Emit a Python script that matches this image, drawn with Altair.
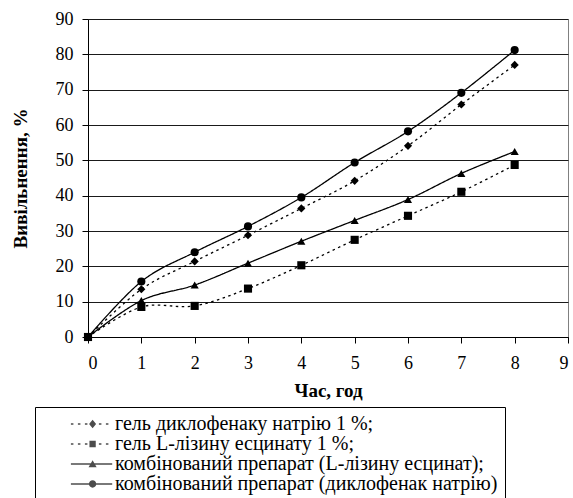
import altair as alt
import pandas as pd

# Release kinetics: hours vs. released amount, %
hours = [0, 1, 2, 3, 4, 5, 6, 7, 8]

series_names = [
    "гель диклофенаку натрію 1 %;",
    "гель L-лізину есцинату 1 %;",
    "комбінований препарат (L-лізину есцинат);",
    "комбінований препарат (диклофенак натрію)",
]

diclofenac_gel = [0, 13.5, 21.4, 28.8, 36.4, 44.2, 54.1, 65.8, 77.0]
lysine_gel = [0, 8.5, 8.8, 13.7, 20.3, 27.5, 34.3, 41.1, 48.7]
combined_lysine = [0, 10.3, 14.7, 20.9, 27.1, 33.0, 38.9, 46.3, 52.5]
combined_diclofenac = [0, 15.7, 24.0, 31.3, 39.5, 49.4, 58.2, 69.1, 81.2]

values_by_series = [diclofenac_gel, lysine_gel, combined_lysine, combined_diclofenac]

rows = []
for name, vals in zip(series_names, values_by_series):
    for h, v in zip(hours, vals):
        rows.append({"series": name, "hour": h, "value": v})
df = pd.DataFrame(rows)

FONT = "Liberation Serif"

axis_style = dict(
    domainColor="black",
    tickColor="black",
    labelFont=FONT,
    labelFontSize=18,
    labelColor="black",
    titleFont=FONT,
    titleFontSize=19,
    titleFontWeight="bold",
    titleColor="black",
)

x_enc = alt.X(
    "hour:Q",
    scale=alt.Scale(domain=[0, 9], nice=False),
    axis=alt.Axis(
        title="Час, год",
        values=list(range(0, 10)),
        format="d",
        grid=False,
        tickSize=6,
        labelPadding=11,
        titlePadding=9,
        **axis_style,
    ),
)
y_enc = alt.Y(
    "value:Q",
    scale=alt.Scale(domain=[0, 90], nice=False),
    axis=alt.Axis(
        title="Вивільнення, %",
        values=list(range(0, 100, 10)),
        format="d",
        grid=True,
        gridColor="#1a1a1a",
        gridWidth=1,
        tickSize=6,
        labelPadding=9,
        titlePadding=25,
        **axis_style,
    ),
)

dash_scale = alt.Scale(
    domain=series_names, range=[[2.5, 3.5], [2.5, 3.5], [1, 0], [1, 0]]
)
shape_scale = alt.Scale(
    domain=series_names, range=["diamond", "square", "triangle-up", "circle"]
)

lines = (
    alt.Chart(df)
    .mark_line(interpolate="cardinal", color="black", strokeWidth=1.3)
    .encode(
        x=x_enc,
        y=y_enc,
        strokeDash=alt.StrokeDash("series:N", scale=dash_scale, legend=None),
        detail="series:N",
    )
)

points = (
    alt.Chart(df)
    .mark_point(filled=True, color="black", size=66, opacity=1)
    .encode(
        x=x_enc,
        y=y_enc,
        shape=alt.Shape("series:N", scale=shape_scale, legend=None),
    )
)


# Legend glyphs (unit coordinates, filled only): a thin bar or a row of short
# bars for the line sample, with the marker in its middle
HALF_W = 0.09


def bar(x0, x1):
    return f"M{x0:.2f},{-HALF_W}H{x1:.2f}V{HALF_W}H{x0:.2f}Z"


def dotted(x0, x1, on=0.36, off=0.64):
    parts = []
    x = x0
    while x < x1:
        parts.append(bar(x, min(x + on, x1)))
        x += on + off
    return "".join(parts)


LX0, LX1, MX = 2.7, 8.6, 5.8
diamond = f"M{MX},-0.6L{MX + 0.5},0L{MX},0.6L{MX - 0.5},0Z"
square = f"M{MX - 0.45},-0.45H{MX + 0.45}V0.45H{MX - 0.45}Z"
triangle = f"M{MX},-0.55L{MX + 0.58},0.45H{MX - 0.58}Z"
circle = f"M{MX + 0.52},0A0.52,0.52 0 1,1 {MX - 0.52},0A0.52,0.52 0 1,1 {MX + 0.52},0Z"
legend_paths = [
    dotted(LX0, LX1) + diamond,
    dotted(LX0, LX1) + square,
    bar(LX0, LX1) + triangle,
    bar(LX0, LX1) + circle,
]

legend_layer = (
    alt.Chart(df)
    .transform_filter("false")
    .mark_point(filled=True, fill="black")
    .encode(
        x=x_enc,
        y=y_enc,
        shape=alt.Shape(
            "series:N",
            scale=alt.Scale(domain=series_names, range=legend_paths),
            legend=alt.Legend(
                title=None,
                orient="none",
                legendX=-53,
                legendY=388,
                padding=7,
                strokeColor="black",
                fillColor="white",
                symbolSize=196,
                symbolFillColor="black",
                symbolStrokeWidth=0,
                labelFont=FONT,
                labelFontSize=20,
                labelColor="black",
                labelOffset=53,
                labelLimit=600,
                rowPadding=0,
            ),
        ),
    )
)

chart = (
    alt.layer(lines, points, legend_layer)
    .resolve_scale(shape="independent")
    .properties(
        width=480,
        height=318,
        autosize=alt.AutoSizeParams(type="none"),
        padding={"left": 88, "top": 19, "right": 5, "bottom": 161},
        background="white",
    )
    .configure_view(stroke="#808080", strokeWidth=1)
)

chart.save("out.html", embed_options={"renderer": "svg", "actions": False})
